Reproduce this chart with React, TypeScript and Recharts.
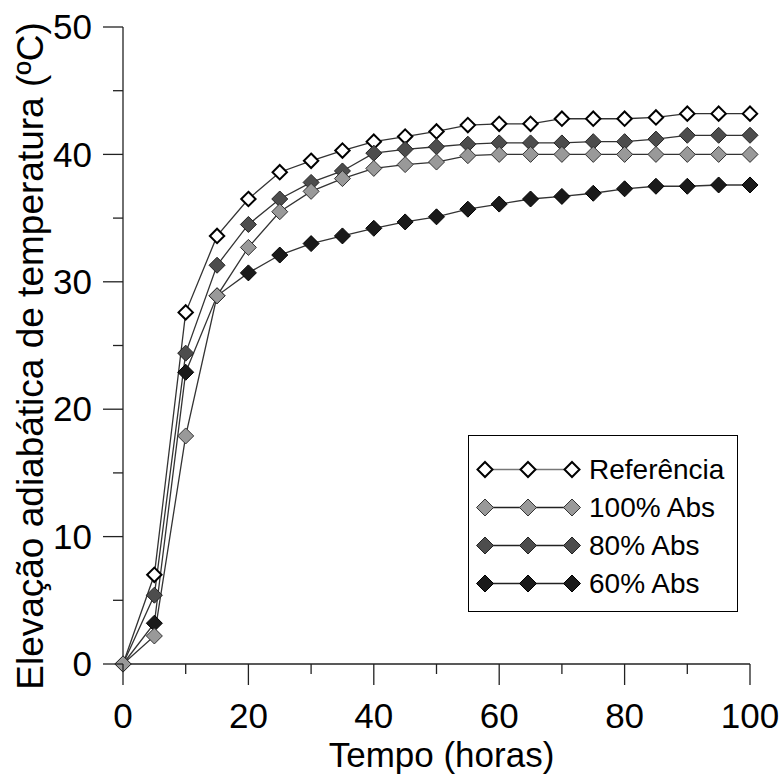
import React from 'react';
import { LineChart, Line, XAxis, YAxis } from 'recharts';

const times = [0, 5, 10, 15, 20, 25, 30, 35, 40, 45, 50, 55, 60, 65, 70, 75, 80, 85, 90, 95, 100];
const referencia = [0, 7.0, 27.6, 33.6, 36.5, 38.6, 39.5, 40.3, 41.0, 41.4, 41.8, 42.3, 42.4, 42.4, 42.8, 42.8, 42.8, 42.9, 43.2, 43.2, 43.2];
const abs100 = [0, 2.2, 17.9, 28.9, 32.7, 35.5, 37.1, 38.1, 38.9, 39.2, 39.4, 39.9, 40.0, 40.0, 40.0, 40.0, 40.0, 40.0, 40.0, 40.0, 40.0];
const abs80 = [0, 5.4, 24.4, 31.3, 34.5, 36.5, 37.8, 38.7, 40.1, 40.4, 40.6, 40.8, 40.9, 40.9, 40.9, 41.0, 41.0, 41.2, 41.5, 41.5, 41.5];
const abs60 = [0, 3.2, 22.9, 28.9, 30.7, 32.1, 33.0, 33.6, 34.2, 34.7, 35.1, 35.7, 36.1, 36.5, 36.7, 36.95, 37.3, 37.5, 37.5, 37.6, 37.6];

const xTicks = [0, 10, 20, 30, 40, 50, 60, 70, 80, 90, 100];
const yTicks = [0, 5, 10, 15, 20, 25, 30, 35, 40, 45, 50];

const seriesNames = ['Referência', '100% Abs', '80% Abs', '60% Abs'];
const seriesKeys = ['ref', 'a100', 'a80', 'a60'];
const seriesFill = ['#ffffff', '#999999', '#4d4d4d', '#1a1a1a'];
const seriesStroke = ['#000000', '#333333', '#222222', '#000000'];
const seriesStrokeWidth = [2, 1, 1, 1];
// drawing order (later on top)
const drawOrder = [0, 2, 3, 1];

const data = times.map((t, i) => ({
  t,
  ref: referencia[i],
  a100: abs100[i],
  a80: abs80[i],
  a60: abs60[i],
}));

const FONT = '"Liberation Sans", Arial, sans-serif';

const diamondPath = (cx: number, cy: number, r: number) =>
  `M${cx},${cy - r}L${cx + r},${cy}L${cx},${cy + r}L${cx - r},${cy}Z`;

const makeDot = (idx: number) => (props: any) => {
  const { cx, cy, index } = props;
  if (cx == null || cy == null) return <g key={`d-${idx}-${index}`} />;
  return (
    <path
      key={`d-${idx}-${index}`}
      d={diamondPath(cx, cy, idx === 0 ? 7.2 : 8)}
      fill={seriesFill[idx]}
      stroke={seriesStroke[idx]}
      strokeWidth={seriesStrokeWidth[idx]}
    />
  );
};

const XTick = (props: any) => {
  const { x, y, payload } = props;
  const v = payload.value;
  const major = v % 20 === 0;
  return (
    <g>
      <line x1={x} x2={x} y1={y} y2={y + (major ? 21 : 10)} stroke="#222" strokeWidth={1.3} />
      {major && (
        <text x={x} y={y + 64} textAnchor="middle" fontSize={35} fontFamily={FONT} fill="#000">
          {v}
        </text>
      )}
    </g>
  );
};

const YTick = (props: any) => {
  const { x, y, payload } = props;
  const v = payload.value;
  const major = v % 10 === 0;
  return (
    <g>
      <line x1={x - (major ? 20 : 10)} x2={x} y1={y} y2={y} stroke="#222" strokeWidth={1.3} />
      {major && (
        <text x={x - 31} y={y} dy="0.35em" textAnchor="end" fontSize={35} fontFamily={FONT} fill="#000">
          {v}
        </text>
      )}
    </g>
  );
};

const LegendBox = () => {
  const rowH = 38;
  const w = 270;
  const h = 177;
  return (
    <svg width={w} height={h} style={{ display: 'block' }}>
      <rect x={0.5} y={0.5} width={w - 1} height={h - 1} fill="#fff" stroke="#000" strokeWidth={1} />
      {seriesNames.map((name, i) => {
        const cy = 34.5 + i * rowH;
        const xs = [17, 60, 104];
        return (
          <g key={name}>
            <line x1={xs[0]} x2={xs[2]} y1={cy} y2={cy} stroke={i === 0 ? '#777' : '#222'} strokeWidth={1.3} />
            {xs.map((sx, j) => (
              <path
                key={j}
                d={diamondPath(sx, cy, i === 0 ? 7.5 : 8.5)}
                fill={seriesFill[i]}
                stroke={seriesStroke[i]}
                strokeWidth={seriesStrokeWidth[i]}
              />
            ))}
            <text x={121} y={cy} dy="0.35em" fontSize={28} fontFamily={FONT} fill="#000">
              {name}
            </text>
          </g>
        );
      })}
    </svg>
  );
};

export default function App() {
  return (
    <div style={{ position: 'absolute', left: 0, top: 0, width: 780, height: 774, background: '#fff' }}>
      <LineChart width={780} height={774} data={data} margin={{ top: 27, right: 30, bottom: 0, left: 0 }}>
        <XAxis
          dataKey="t"
          type="number"
          domain={[0, 100]}
          ticks={xTicks}
          interval={0}
          height={110}
          tickSize={0}
          tickMargin={0}
          tickLine={false}
          axisLine={{ stroke: '#222', strokeWidth: 1.3 }}
          tick={<XTick />}
          label={{
            content: (p: any) => {
              const vb = p.viewBox || {};
              return (
                <text x={vb.x + vb.width / 2 + 5} y={767} textAnchor="middle" fontSize={35} fontFamily={FONT} fill="#000">
                  Tempo (horas)
                </text>
              );
            },
          }}
        />
        <YAxis
          type="number"
          domain={[0, 50]}
          ticks={yTicks}
          interval={0}
          width={123}
          tickSize={0}
          tickMargin={0}
          tickLine={false}
          axisLine={{ stroke: '#222', strokeWidth: 1.3 }}
          tick={<YTick />}
          label={{
            content: () => (
              <text
                x={43}
                y={356}
                transform="rotate(-90 43 356)"
                textAnchor="middle"
                fontSize={37}
                fontFamily={FONT}
                fill="#000"
              >
                Elevação adiabática de temperatura (ºC)
              </text>
            ),
          }}
        />
        {drawOrder.map((i) => (
          <Line
            key={seriesKeys[i]}
            dataKey={seriesKeys[i]}
            name={seriesNames[i]}
            type="linear"
            stroke="#333"
            strokeWidth={1.3}
            dot={makeDot(i)}
            activeDot={false}
            isAnimationActive={false}
          />
        ))}
      </LineChart>
      <div style={{ position: 'absolute', left: 468, top: 435, width: 270, height: 177 }}>
        <LegendBox />
      </div>
    </div>
  );
}
